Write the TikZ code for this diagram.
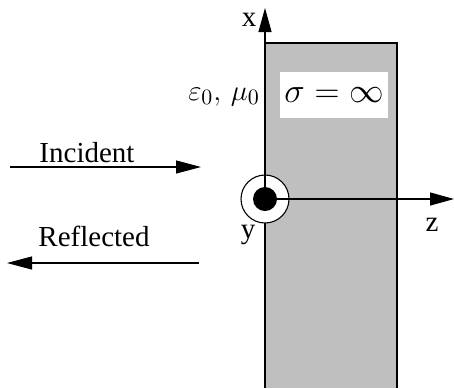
\documentclass[tikz,border=0pt]{standalone}
\usepackage{fontspec}
\setmainfont{Liberation Serif}
\usetikzlibrary{arrows.meta, positioning}

\begin{document}
\begin{tikzpicture}[x=0.5pt,y=-0.5pt,
  axisline/.style={line width=0.55pt,-{Triangle[length=12pt,width=6.5pt]}},
  waveline/.style={line width=0.55pt,-{Triangle[length=12.5pt,width=6.5pt]}},
  plainlabel/.style={font=\fontsize{14.5}{17}\selectfont,inner sep=0pt}]
\useasboundingbox (0,0) rectangle (454,388);
\colorlet{conductorgray}{black!25}

\coordinate (O) at (265,199);
\coordinate (Xtip) at (265,8);
\coordinate (Ztip) at (454,199);
\coordinate (incStart) at (10,167);
\coordinate (incEnd) at (201,167);
\coordinate (refStart) at (199,263);
\coordinate (refEnd) at (7,263);

% perfect conductor
\fill[conductorgray] (265,43) rectangle (397,388);
\draw[line width=0.8pt] (265,388) |- (397,43) -- (397,388);
\node[fill=white,minimum width=54pt,minimum height=23pt,inner sep=0pt,
  font=\fontsize{16}{18}\selectfont] (sigma) at (334,95) {$\sigma=\infty$};

% y axis out of the page
\node[circle,draw,fill=white,line width=0.55pt,minimum size=24pt,inner sep=0pt] (yring) at (O) {};
\draw[axisline] (O) -- (Xtip);
\draw[axisline] (O) -- (Ztip);
\fill (O) circle[radius=12];

\node[plainlabel] (xlabel) at (249,20) {x};
\node[plainlabel] (ylabel) at (248,235) {y};
\node[plainlabel] (zlabel) at (432,225) {z};
\node[plainlabel,font=\fontsize{15}{17}\selectfont] (medium) at (224,97) {$\varepsilon_0,\,\mu_0$};

\draw[waveline] (incStart) -- (incEnd);
\draw[waveline] (refStart) -- (refEnd);
\node[plainlabel] (incident) at (87,153) {Incident};
\node[plainlabel] (reflected) at (94,236) {Reflected};
\end{tikzpicture}
\end{document}
